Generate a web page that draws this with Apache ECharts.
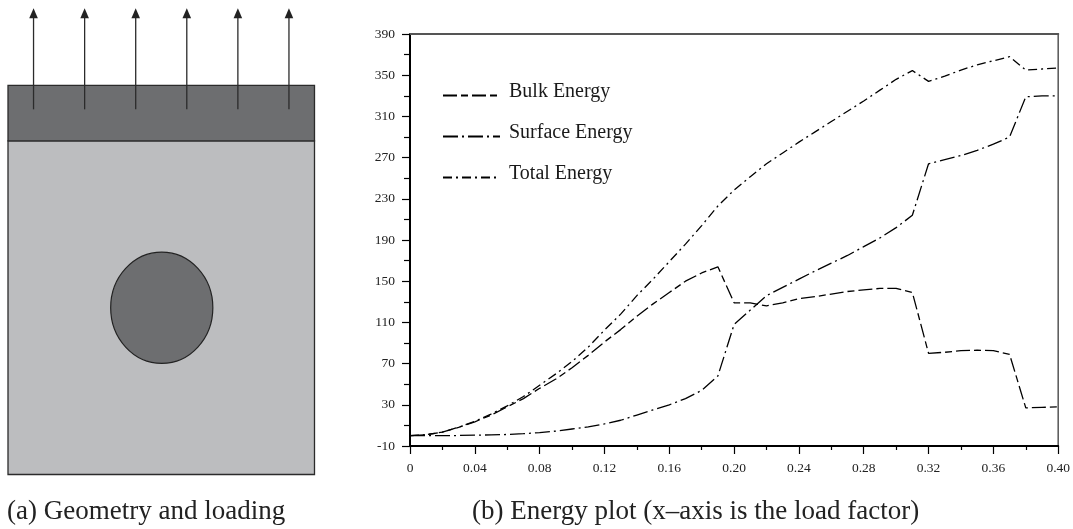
<!DOCTYPE html>
<html>
<head>
<meta charset="utf-8">
<style>html,body{margin:0;padding:0;background:#fff}#c{width:1073px;height:529px}</style>
<script src="https://cdn.jsdelivr.net/npm/echarts@6/dist/echarts.min.js"></script>
</head>
<body>
<div id="c"></div>
<script>
const loadFactor = [0,0.01,0.02,0.03,0.04,0.05,0.06,0.07,0.08,0.09,0.10,0.11,0.12,0.13,0.14,0.15,0.16,0.17,0.18,0.19,0.20,0.21,0.22,0.23,0.24,0.25,0.26,0.27,0.28,0.29,0.30,0.31,0.32,0.33,0.34,0.35,0.36,0.37,0.38,0.39,0.40];
const bulkEnergy = [0,1,3.5,8,13.5,20,28,36,46,55,66,78,91,103,116,128,139,150,158,164,129,129,126,129,133,135,137.5,140,141.5,143,143,139,80,81,82.5,83,82.5,79,27,27.5,28];
const surfaceEnergy = [0,0,0,0.2,0.5,0.8,1.2,2,3,4.5,6.5,8.5,11.5,15,20,25,30,36,44,58,108,122,136,144,152,160,167.5,175,183.5,192,202,214,264,268,272,277,283,290,329,330,330];
const totalEnergy = [0,1,3.5,8.2,14,21,29,38,49,60,72,86,102.5,118,136,152,169,186,204,223,238.5,251.5,264,274.5,285,295,305,315,325,335.5,346,354.5,344,349,355,360,364,368,355,356,357];
const seriesNames = ['Bulk Energy','Surface Energy','Total Energy'];
const captions = ['(a) Geometry and loading','(b) Energy plot (x\u2013axis is the load factor)'];

// Left panel: geometry in specimen units (one unit = arrow spacing)
const specimenBody = [0,0,6,6.54];
const loadedBand = [0,6.54,6,7.63];
const inclusion = [3.01,3.27,1.0,1.09];
const arrowX = [0.5,1.5,2.5,3.5,4.5,5.5];
const arrowY = [7.16,9.14];

const pts = arr => loadFactor.map((x,i)=>[x,arr[i]]);
const serif = '"Liberation Serif","Times New Roman",serif';

function geomItem(params, api){
  const rect = (b,fill)=>{
    const p0 = api.coord([b[0],b[3]]), p1 = api.coord([b[2],b[1]]);
    return {type:'rect',shape:{x:p0[0],y:p0[1],width:p1[0]-p0[0],height:p1[1]-p0[1]},
      style:{fill:fill,stroke:'#2b2b2b',lineWidth:1.3}};
  };
  const c = api.coord([inclusion[0],inclusion[1]]);
  const sx = api.size([1,1]);
  const children = [
    rect(specimenBody,'#bcbdbf'),
    rect(loadedBand,'#6d6e70'),
    {type:'ellipse',shape:{cx:c[0],cy:c[1],rx:inclusion[2]*sx[0],ry:inclusion[3]*sx[1]},
      style:{fill:'#6d6e70',stroke:'#222',lineWidth:1.2}}
  ];
  arrowX.forEach(x=>{
    const a = api.coord([x,arrowY[0]]), b = api.coord([x,arrowY[1]]);
    children.push({type:'line',shape:{x1:a[0],y1:a[1],x2:b[0],y2:b[1]+6},style:{stroke:'#2b2b2b',lineWidth:1.3}});
    children.push({type:'polygon',shape:{points:[[b[0],b[1]],[b[0]-4.3,b[1]+10],[b[0]+4.3,b[1]+10]]},style:{fill:'#222'}});
  });
  return {type:'group',children:children};
}

const chart = echarts.init(document.getElementById('c'),null,{renderer:'canvas'});
chart.setOption({
  animation:false,
  backgroundColor:'#fff',
  title:[
    {text:captions[0],left:7,top:498,textStyle:{fontFamily:serif,fontSize:27,fontWeight:'normal',color:'#222'},padding:0},
    {text:captions[1],left:472,top:498,textStyle:{fontFamily:serif,fontSize:27,fontWeight:'normal',color:'#222'},padding:0}
  ],
  legend:{
    data:seriesNames,orient:'vertical',left:442,top:82,padding:0,
    itemWidth:57,itemHeight:14,itemGap:21,
    itemStyle:{opacity:0},
    formatter:'{t|{name}}',
    textStyle:{rich:{t:{fontFamily:serif,fontSize:20,color:'#1a1a1a',padding:[0,0,7,4]}}}
  },
  grid:[
    {left:8,top:0.2,width:306.5,height:474.3,show:false},
    {left:410,top:34,width:650.5,height:412,show:true,borderColor:'#555',borderWidth:1.5,backgroundColor:'transparent'}
  ],
  xAxis:[
    {gridIndex:0,type:'value',min:0,max:6,show:false},
    {gridIndex:1,type:'value',min:0,max:0.4,interval:0.04,
      axisLine:{show:true,onZero:false,lineStyle:{color:'#000',width:2}},
      axisTick:{show:true,length:8,lineStyle:{color:'#000',width:1.2}},
      minorTick:{show:true,splitNumber:2,length:4,lineStyle:{color:'#000',width:1.2}},
      splitLine:{show:false},minorSplitLine:{show:false},
      axisLabel:{margin:15,fontFamily:serif,fontSize:13.5,color:'#222',showMinLabel:true,showMaxLabel:true,
        formatter:v=>v===0?'0':v.toFixed(2)}},
    {gridIndex:1,type:'value',position:'top',min:0,max:0.4,interval:0.04,
      axisLine:{show:true,onZero:false,lineStyle:{color:'#555',width:2.2}},
      axisTick:{show:false},axisLabel:{show:false},splitLine:{show:false}}
  ],
  yAxis:[
    {gridIndex:0,type:'value',min:0,max:9.3,show:false},
    {gridIndex:1,type:'value',min:-10,max:390,interval:40,
      axisLine:{show:true,onZero:false,lineStyle:{color:'#000',width:2}},
      axisTick:{show:true,length:8,lineStyle:{color:'#000',width:1.2}},
      minorTick:{show:true,splitNumber:2,length:6,lineStyle:{color:'#000',width:1.2}},
      splitLine:{show:false},minorSplitLine:{show:false},
      axisLabel:{margin:15,fontFamily:serif,fontSize:13.5,color:'#222',showMinLabel:true,showMaxLabel:true}}
  ],
  series:[
    {type:'custom',xAxisIndex:0,yAxisIndex:0,silent:true,clip:false,renderItem:geomItem,data:[[0,0]],encode:{x:0,y:1}},
    {name:seriesNames[0],type:'line',xAxisIndex:1,yAxisIndex:1,data:pts(bulkEnergy),showSymbol:false,symbol:'none',
      lineStyle:{color:'#000',width:1.3,type:[14,4,7,4]}},
    {name:seriesNames[1],type:'line',xAxisIndex:1,yAxisIndex:1,data:pts(surfaceEnergy),showSymbol:false,symbol:'none',
      lineStyle:{color:'#000',width:1.3,type:[15,4,2,4]}},
    {name:seriesNames[2],type:'line',xAxisIndex:1,yAxisIndex:1,data:pts(totalEnergy),showSymbol:false,symbol:'none',
      lineStyle:{color:'#000',width:1.3,type:[9,4,2,4]}}
  ]
});
</script>
</body>
</html>
